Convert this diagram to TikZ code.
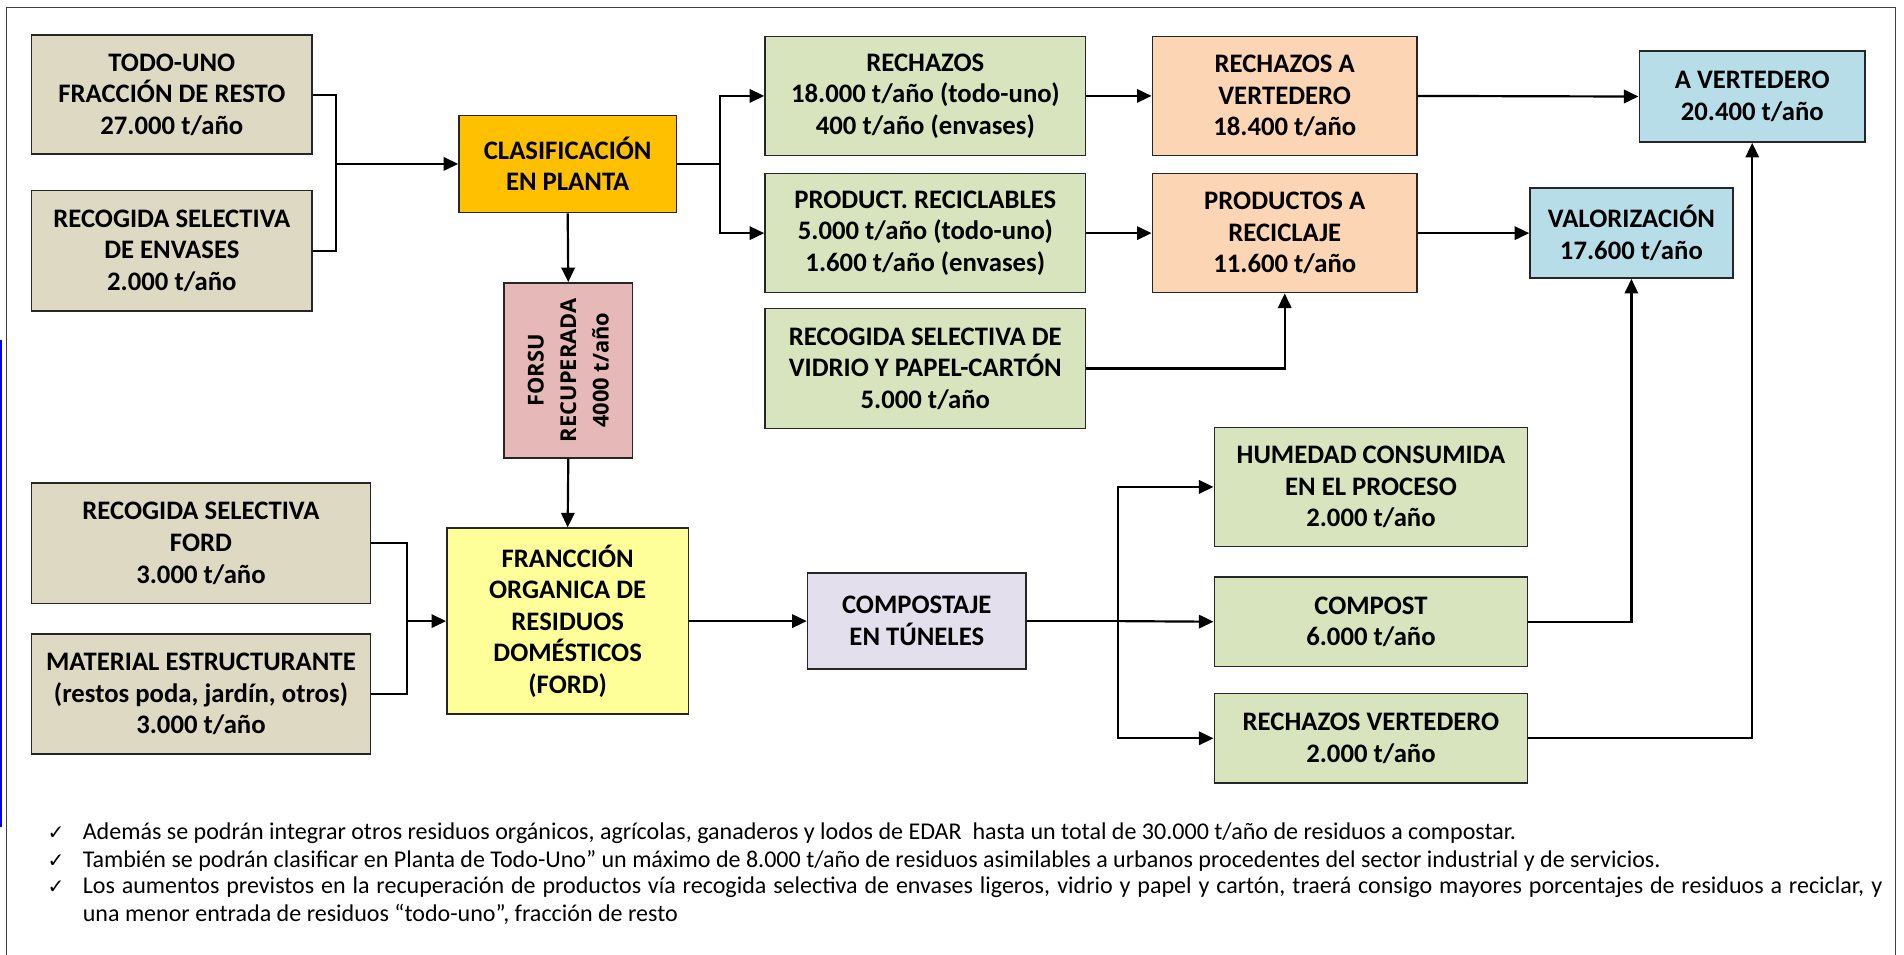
\documentclass[tikz,border=0pt]{standalone}
\usepackage{fontspec}
\setmainfont{Carlito}
\newfontfamily\forsufont{Open Sans}
\newfontfamily\symfont{DejaVu Sans}
\usetikzlibrary{arrows.meta}
\definecolor{ctan}{HTML}{DDD9C3}
\definecolor{corange}{HTML}{FFC000}
\definecolor{cpink}{HTML}{E6B9B8}
\definecolor{cyellow}{HTML}{FFFF99}
\definecolor{cgreen}{HTML}{D7E4BD}
\definecolor{cpeach}{HTML}{FCD5B5}
\definecolor{cblue}{HTML}{B7DEE8}
\definecolor{clav}{HTML}{E4DFEC}
\definecolor{cframe}{HTML}{404040}
\tikzset{
  box/.style={draw=black!85, line width=1.3pt, align=center, inner sep=0pt,
    font=\bfseries\fontsize{22}{26}\selectfont},
  wire/.style={draw=black, line width=1.8pt},
  arr/.style={wire, -{Triangle[length=12pt,width=11pt]}},
  note/.style={anchor=base west, inner sep=0pt, align=left,
    font=\fontsize{19.8}{22.5}\selectfont},
  tick/.style={anchor=base west, inner sep=0pt, font=\symfont\fontsize{16.5}{18}\selectfont}
}
\newcommand{\flowbox}[7]{%
  \node[box, fill=#2, minimum width={(#5-#3)*1pt}, minimum height={(#6-#4)*1pt}]
    (#1) at ({(#3+#5)/2},{(#4+#6)/2}) {#7};}
\begin{document}
\begin{tikzpicture}[x=1pt,y=-1pt]
\useasboundingbox (0,0) rectangle (1568,786);
% frame
\draw[cframe, line width=1.2pt] (5.5,800) -- (5.5,6) -- (1561,6) -- (1561,800);
\draw[blue, line width=1.6pt] (1,280) -- (1,681);
% boxes
\flowbox{todo}{ctan}{26}{29}{257}{127}{TODO-UNO\\FRACCIÓN DE RESTO\\27.000 t/año}
\flowbox{env}{ctan}{26}{157}{257}{256}{RECOGIDA SELECTIVA\\DE ENVASES\\2.000 t/año}
\flowbox{clas}{corange}{378}{95}{557}{175}{CLASIFICACIÓN\\EN PLANTA}
\flowbox{rech}{cgreen}{630}{30}{894}{128}{RECHAZOS\\18.000 t/año (todo-uno)\\400 t/año (envases)}
\flowbox{prod}{cgreen}{630}{143}{894}{241}{PRODUCT. RECICLABLES\\5.000 t/año (todo-uno)\\1.600 t/año (envases)}
\flowbox{vid}{cgreen}{630}{254}{894}{353}{RECOGIDA SELECTIVA DE\\VIDRIO Y PAPEL-CARTÓN\\5.000 t/año}
\flowbox{rav}{cpeach}{949}{30}{1167}{128}{RECHAZOS A\\VERTEDERO\\18.400 t/año}
\flowbox{pav}{cpeach}{949}{143}{1167}{241}{PRODUCTOS A\\RECICLAJE\\11.600 t/año}
\flowbox{aver}{cblue}{1350}{42}{1536}{117}{A VERTEDERO\\20.400 t/año}
\flowbox{val}{cblue}{1260}{155}{1427}{229}{VALORIZACIÓN\\17.600 t/año}
\flowbox{forsu}{cpink}{415}{233}{521}{377}{}
\node[rotate=90, align=center, inner sep=0pt,
  font=\forsufont\bfseries\fontsize{18}{26.7}\selectfont] (forsutext) at (forsu.center)
  {FORSU\\RECUPERADA\\4000 t/año};
\flowbox{ford}{ctan}{26}{398}{305}{497}{RECOGIDA SELECTIVA\\FORD\\3.000 t/año}
\flowbox{mat}{ctan}{26}{522}{305}{621}{MATERIAL ESTRUCTURANTE\\(restos poda, jardín, otros)\\3.000 t/año}
\flowbox{franc}{cyellow}{368}{435}{567}{588}{FRANCCIÓN\\ORGANICA DE\\RESIDUOS\\DOMÉSTICOS\\(FORD)}
\flowbox{comp}{clav}{665}{472}{845}{551}{COMPOSTAJE\\EN TÚNELES}
\flowbox{hum}{cgreen}{1000}{352}{1258}{450}{HUMEDAD CONSUMIDA\\EN EL PROCESO\\2.000 t/año}
\flowbox{cst}{cgreen}{1000}{475}{1258}{549}{COMPOST\\6.000 t/año}
\flowbox{rv}{cgreen}{1000}{571}{1258}{645}{RECHAZOS VERTEDERO\\2.000 t/año}
% junctions
\coordinate (j1) at (277,135);
\coordinate (j2) at (593,135);
\coordinate (j3) at (335,511.5);
\coordinate (j4) at (921,511.5);
% connectors
\draw[wire] (todo.east) -| (j1);
\draw[wire] (env.east) -| (j1);
\draw[arr] (j1) -- (clas.west);
\draw[arr] (clas.south) -- (forsu.north);
\draw[arr] (forsu.south) -- (franc.north);
\draw[wire] (clas.east) -- (j2);
\draw[arr] (j2) |- (rech.west);
\draw[arr] (j2) |- (prod.west);
\draw[arr] (rech.east) -- (rav.west);
\draw[arr] (prod.east) -- (pav.west);
\draw[arr] (vid.east) -| (pav.south);
\draw[arr] (rav.east) -- (aver.west);
\draw[arr] (pav.east) -- (val.west);
\draw[wire] (ford.east) -| (j3);
\draw[wire] (mat.east) -| (j3);
\draw[arr] (j3) -- (franc.west);
\draw[arr] (franc.east) -- (comp.west);
\draw[wire] (comp.east) -- (j4);
\draw[arr] (j4) |- (hum.west);
\draw[arr] (j4) -- (cst.west);
\draw[arr] (j4) |- (rv.west);
\draw[arr] (cst.east) -| (val.south);
\draw[arr] (rv.east) -| (aver.south);
% notes
\node[tick] (t1) at (39,691) {✓};
\node[tick] (t2) at (39,714) {✓};
\node[tick] (t3) at (39,736) {✓};
\node[note] (n1) at (68,691) {Además se podrán integrar otros residuos orgánicos, agrícolas, ganaderos y lodos de EDAR\ \ hasta un total de 30.000 t/año de residuos a compostar.};
\node[note] (n2) at (68,714) {También se podrán clasificar en Planta de Todo-Uno” un máximo de 8.000 t/año de residuos asimilables a urbanos procedentes del sector industrial y de servicios.};
\node[note, text width=1482pt, align=justify] (n3) at (68,736) {Los aumentos previstos en la recuperación de productos vía recogida selectiva de envases ligeros, vidrio y papel y cartón, traerá consigo mayores porcentajes de residuos a reciclar, y\linebreak una menor entrada de residuos “todo-uno”, fracción de resto};
\end{tikzpicture}
\end{document}
